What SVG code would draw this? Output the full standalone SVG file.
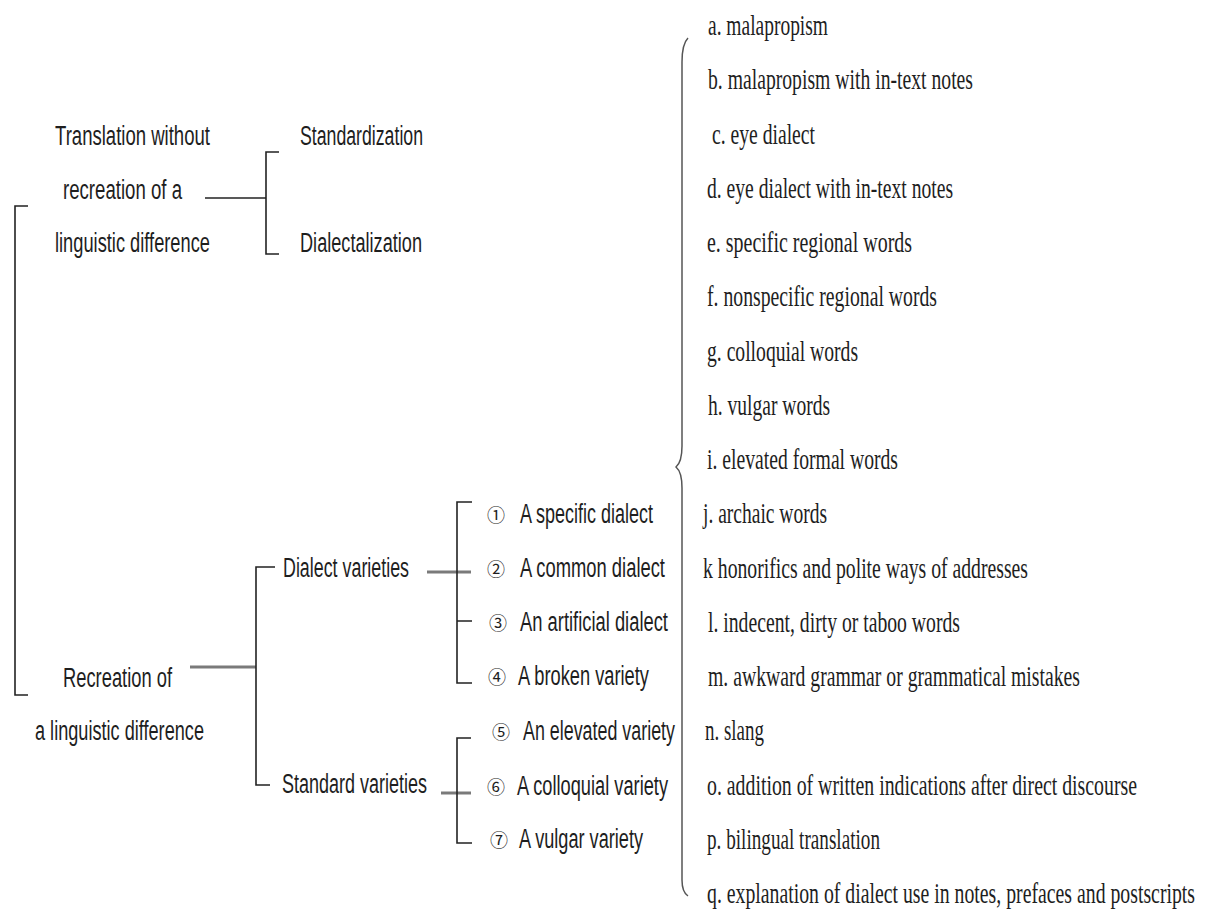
<svg xmlns="http://www.w3.org/2000/svg" width="1209" height="911" viewBox="0 0 1209 911">
  <style>
    .bg { fill: #ffffff; }
    .sans { font-family: "Liberation Sans", Arial, sans-serif; font-size: 27px; fill: #1e1e1e; }
    .serif { font-family: "Liberation Serif", "Times New Roman", serif; font-size: 29px; fill: #1e1e1e; }
    .circ { font-family: "Noto Sans CJK SC", "DejaVu Sans", sans-serif; font-size: 18px; fill: #1e1e1e; text-anchor: middle; }
    .line { fill: none; stroke: #222222; stroke-width: 1.6; }
    .thick { fill: none; stroke: #7a7a7a; stroke-width: 3; }
    .brace { fill: none; stroke: #555555; stroke-width: 1.5; }
  </style>
  <rect class="bg" x="0" y="0" width="1209" height="911"/>

  <!-- connectors and brackets -->
  <g id="connectors">
    <path class="line" d="M28,206 H15 V695 H28"/>
    <path class="line" d="M205,198 H266"/>
    <path class="line" d="M279,152 H266 V254 H279"/>
    <path class="thick" d="M190,667 H256"/>
    <path class="line" d="M275,567 H256 V785 H270"/>
    <path class="thick" d="M427,572 H471"/>
    <path class="line" d="M472,502 H457 V683 H472 M457,621 H472"/>
    <path class="thick" d="M441,793 H471"/>
    <path class="line" d="M471,738 H457 V843 H472"/>
    <path class="brace" d="M688,38 Q682,44 682,62 V446 Q682,462 676,467 Q682,472 682,488 V880 Q682,892 688,896"/>
  </g>

  <!-- left column (condensed sans: scale 0.68 horizontally) -->
  <g id="node-translation-without">
    <text class="sans" transform="translate(55,145) scale(0.68,1)" textLength="227.9" lengthAdjust="spacingAndGlyphs">Translation without</text>
    <text class="sans" transform="translate(63,199) scale(0.68,1)" textLength="175" lengthAdjust="spacingAndGlyphs">recreation of a</text>
    <text class="sans" transform="translate(55,252) scale(0.68,1)" textLength="227.9" lengthAdjust="spacingAndGlyphs">linguistic difference</text>
  </g>
  <g id="node-standardization">
    <text class="sans" transform="translate(300,145) scale(0.68,1)" textLength="180.9" lengthAdjust="spacingAndGlyphs">Standardization</text>
  </g>
  <g id="node-dialectalization">
    <text class="sans" transform="translate(300,252) scale(0.68,1)" textLength="179.4" lengthAdjust="spacingAndGlyphs">Dialectalization</text>
  </g>
  <g id="node-recreation">
    <text class="sans" transform="translate(63,687) scale(0.68,1)" textLength="160.3" lengthAdjust="spacingAndGlyphs">Recreation of</text>
    <text class="sans" transform="translate(35,740) scale(0.68,1)" textLength="248.5" lengthAdjust="spacingAndGlyphs">a linguistic difference</text>
  </g>
  <g id="node-dialect-varieties">
    <text class="sans" transform="translate(283,577) scale(0.68,1)" textLength="185.3" lengthAdjust="spacingAndGlyphs">Dialect varieties</text>
  </g>
  <g id="node-standard-varieties">
    <text class="sans" transform="translate(282,793) scale(0.68,1)" textLength="213.2" lengthAdjust="spacingAndGlyphs">Standard varieties</text>
  </g>

  <!-- numbered varieties -->
  <g id="node-v1">
    <text class="circ" x="496" y="522">①</text>
    <text class="sans" transform="translate(520,523) scale(0.68,1)" textLength="195.6" lengthAdjust="spacingAndGlyphs">A specific dialect</text>
  </g>
  <g id="node-v2">
    <text class="circ" x="496" y="576">②</text>
    <text class="sans" transform="translate(520,577) scale(0.68,1)" textLength="213.2" lengthAdjust="spacingAndGlyphs">A common dialect</text>
  </g>
  <g id="node-v3">
    <text class="circ" x="498" y="630">③</text>
    <text class="sans" transform="translate(520,631) scale(0.68,1)" textLength="217.6" lengthAdjust="spacingAndGlyphs">An artificial dialect</text>
  </g>
  <g id="node-v4">
    <text class="circ" x="497" y="684">④</text>
    <text class="sans" transform="translate(518,685) scale(0.68,1)" textLength="192.6" lengthAdjust="spacingAndGlyphs">A broken variety</text>
  </g>
  <g id="node-v5">
    <text class="circ" x="501" y="739">⑤</text>
    <text class="sans" transform="translate(523,740) scale(0.68,1)" textLength="223.5" lengthAdjust="spacingAndGlyphs">An elevated variety</text>
  </g>
  <g id="node-v6">
    <text class="circ" x="496" y="794">⑥</text>
    <text class="sans" transform="translate(517,795) scale(0.68,1)" textLength="222.1" lengthAdjust="spacingAndGlyphs">A colloquial variety</text>
  </g>
  <g id="node-v7">
    <text class="circ" x="499" y="847">⑦</text>
    <text class="sans" transform="translate(519,848) scale(0.68,1)" textLength="182.4" lengthAdjust="spacingAndGlyphs">A vulgar variety</text>
  </g>

  <!-- list of strategies (condensed serif: scale 0.67 horizontally) -->
  <g id="node-strategies">
    <text class="serif" transform="translate(708,35) scale(0.67,1)" textLength="179.1" lengthAdjust="spacingAndGlyphs">a. malapropism</text>
    <text class="serif" transform="translate(708,89) scale(0.67,1)" textLength="395.5" lengthAdjust="spacingAndGlyphs">b. malapropism with in-text notes</text>
    <text class="serif" transform="translate(712,144) scale(0.67,1)" textLength="153.7" lengthAdjust="spacingAndGlyphs">c. eye dialect</text>
    <text class="serif" transform="translate(707,198) scale(0.67,1)" textLength="367.2" lengthAdjust="spacingAndGlyphs">d. eye dialect with in-text notes</text>
    <text class="serif" transform="translate(707,252) scale(0.67,1)" textLength="306" lengthAdjust="spacingAndGlyphs">e. specific regional words</text>
    <text class="serif" transform="translate(707,306) scale(0.67,1)" textLength="343.3" lengthAdjust="spacingAndGlyphs">f. nonspecific regional words</text>
    <text class="serif" transform="translate(707,361) scale(0.67,1)" textLength="225.4" lengthAdjust="spacingAndGlyphs">g. colloquial words</text>
    <text class="serif" transform="translate(708,415) scale(0.67,1)" textLength="182.1" lengthAdjust="spacingAndGlyphs">h. vulgar words</text>
    <text class="serif" transform="translate(707,469) scale(0.67,1)" textLength="285.1" lengthAdjust="spacingAndGlyphs">i. elevated formal words</text>
    <text class="serif" transform="translate(703,523) scale(0.67,1)" textLength="185.1" lengthAdjust="spacingAndGlyphs">j. archaic words</text>
    <text class="serif" transform="translate(703,578) scale(0.67,1)" textLength="485.1" lengthAdjust="spacingAndGlyphs">k honorifics and polite ways of addresses</text>
    <text class="serif" transform="translate(708,632) scale(0.67,1)" textLength="376.1" lengthAdjust="spacingAndGlyphs">l. indecent, dirty or taboo words</text>
    <text class="serif" transform="translate(708,686) scale(0.67,1)" textLength="555.2" lengthAdjust="spacingAndGlyphs">m. awkward grammar or grammatical mistakes</text>
    <text class="serif" transform="translate(705,740) scale(0.67,1)" textLength="88.1" lengthAdjust="spacingAndGlyphs">n. slang</text>
    <text class="serif" transform="translate(707,795) scale(0.67,1)" textLength="641.8" lengthAdjust="spacingAndGlyphs">o. addition of written indications after direct discourse</text>
    <text class="serif" transform="translate(707,849) scale(0.67,1)" textLength="258.2" lengthAdjust="spacingAndGlyphs">p. bilingual translation</text>
    <text class="serif" transform="translate(707,903) scale(0.67,1)" textLength="728.4" lengthAdjust="spacingAndGlyphs">q. explanation of dialect use in notes, prefaces and postscripts</text>
  </g>
</svg>
